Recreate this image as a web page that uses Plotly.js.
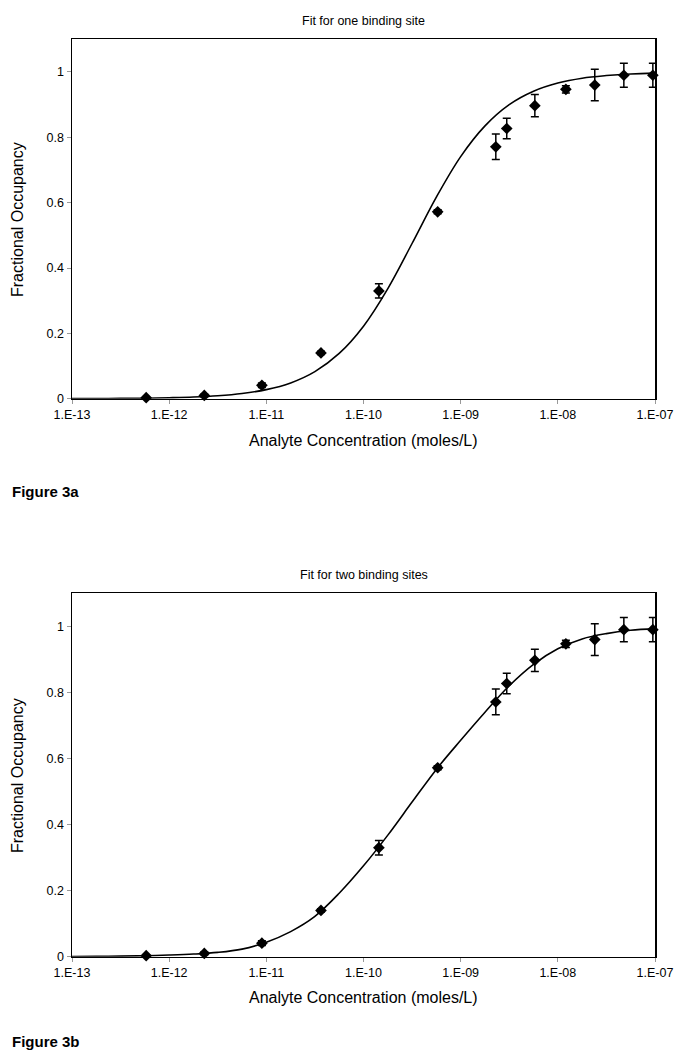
<!DOCTYPE html>
<html>
<head>
<meta charset="utf-8">
<script src="https://cdn.plot.ly/plotly-3.0.1.min.js"></script>
<style>html,body{margin:0;padding:0;background:#fff;}#chart{width:687px;height:1050px;}</style>
</head>
<body>
<div id="chart"></div>
<script>
// Analyte concentrations (moles/L)
const concentration = [5.8e-13, 2.3e-12, 9.0e-12, 3.65e-11, 1.44e-10, 5.8e-10, 2.3e-9, 2.98e-9, 5.8e-9, 1.21e-8, 2.4e-8, 4.78e-8, 9.5e-8];
// Measured fractional occupancy and error
const occupancy = [0.003, 0.010, 0.041, 0.140, 0.33, 0.572, 0.771, 0.827, 0.897, 0.947, 0.960, 0.990, 0.990];
const occErr = [0.002, 0.004, 0.007, 0.005, 0.022, 0.006, 0.039, 0.031, 0.034, 0.011, 0.048, 0.037, 0.037];
// Fitted curves
const curveConc = [1e-13, 1.78e-13, 3.16e-13, 5.62e-13, 1e-12, 1.78e-12, 3.16e-12, 5.62e-12, 1e-11, 1.78e-11, 3.16e-11, 5.62e-11, 1e-10, 1.78e-10, 3.16e-10, 5.62e-10, 1e-9, 1.78e-9, 3.16e-9, 5.62e-9, 1e-8, 1.78e-8, 3.16e-8, 5.62e-8, 1e-7];
const fitOneSite = [0.0003, 0.0005, 0.0009, 0.0016, 0.0029, 0.005, 0.0089, 0.0158, 0.0278, 0.0484, 0.0829, 0.1385, 0.222, 0.337, 0.475, 0.617, 0.741, 0.835, 0.900, 0.941, 0.966, 0.981, 0.989, 0.994, 0.9965];
const fitTwoSites = [0.0005, 0.001, 0.0018, 0.003, 0.005, 0.008, 0.013, 0.023, 0.044, 0.076, 0.122, 0.192, 0.275, 0.368, 0.468, 0.567, 0.655, 0.740, 0.820, 0.885, 0.932, 0.962, 0.978, 0.988, 0.993];
const xTickVals = [1e-13, 1e-12, 1e-11, 1e-10, 1e-9, 1e-8, 1e-7];
const xTickText = ['1.E-13', '1.E-12', '1.E-11', '1.E-10', '1.E-09', '1.E-08', '1.E-07'];
const yTickVals = [0, 0.2, 0.4, 0.6, 0.8, 1];
const yTickText = ['0', '0.2', '0.4', '0.6', '0.8', '1'];
const titles = ['Fit for one binding site', 'Fit for two binding sites'];
const figLabels = ['Figure 3a', 'Figure 3b'];

const FONT = 'Liberation Sans, Arial, sans-serif';

function dataTrace(xa, ya) {
  return {
    x: concentration, y: occupancy, xaxis: xa, yaxis: ya,
    type: 'scatter', mode: 'markers', cliponaxis: false,
    marker: {symbol: 'diamond', size: 9, color: '#000'},
    error_y: {type: 'data', array: occErr, visible: true, color: '#000', thickness: 1.5, width: 4},
    hoverinfo: 'skip', showlegend: false
  };
}
function fitTrace(yvals, xa, ya) {
  return {
    x: curveConc, y: yvals, xaxis: xa, yaxis: ya,
    type: 'scatter', mode: 'lines', cliponaxis: false,
    line: {color: '#000', width: 1.6, shape: 'spline', smoothing: 1.0},
    hoverinfo: 'skip', showlegend: false
  };
}

const xBase = {
  type: 'log', range: [-13, -7], tickvals: xTickVals, ticktext: xTickText,
  showline: true, linecolor: '#000', linewidth: 1.5, mirror: true,
  ticks: 'outside', ticklen: 4, tickcolor: '#999', tickwidth: 1,
  showgrid: false, zeroline: false,
  tickfont: {family: FONT, size: 12.5, color: '#000'}
};
const yBase = {
  range: [0, 1.1], tickvals: yTickVals, ticktext: yTickText,
  showline: true, linecolor: '#000', linewidth: 1.5, mirror: true,
  ticks: 'outside', ticklen: 4, tickcolor: '#999', tickwidth: 1,
  showgrid: false, zeroline: false,
  tickfont: {family: FONT, size: 12.5, color: '#000'}
};

const H = 1050;
const top1 = 1 - 39.3 / H, bot1 = 1 - 398.7 / H;
const top2 = 1 - 593.3 / H, bot2 = 1 - 956.7 / H;

const annotations = [];
function ann(text, x, y, opts) {
  annotations.push(Object.assign({text: text, x: x, y: y, xref: 'paper', yref: 'paper', showarrow: false,
    font: {family: FONT, size: 12, color: '#000'}, xanchor: 'center', yanchor: 'middle'}, opts || {}));
}
// titles
ann(titles[0], 0.5, 1 - 21 / H, {font: {family: FONT, size: 12.5, color: '#000'}});
ann(titles[1], 0.5, 1 - 575 / H, {font: {family: FONT, size: 12.5, color: '#000'}});
// x axis titles
ann('Analyte Concentration (moles/L)', 0.5, 1 - 440 / H, {font: {family: FONT, size: 16, color: '#000'}});
ann('Analyte Concentration (moles/L)', 0.5, 1 - 997 / H, {font: {family: FONT, size: 16, color: '#000'}});
// y axis titles
const plotW = 687 - 72 - 32;
ann('Fractional Occupancy', -55 / plotW, (top1 + bot1) / 2, {textangle: -90, font: {family: FONT, size: 16, color: '#000'}});
ann('Fractional Occupancy', -55 / plotW, (top2 + bot2) / 2, {textangle: -90, font: {family: FONT, size: 16, color: '#000'}});
// figure labels
ann('<b>' + figLabels[0] + '</b>', -62 / plotW, 1 - 491 / H, {xanchor: 'left', font: {family: FONT, size: 15, color: '#000'}});
ann('<b>' + figLabels[1] + '</b>', -62 / plotW, 1 - 1041 / H, {xanchor: 'left', font: {family: FONT, size: 15, color: '#000'}});

const layout = {
  width: 687, height: 1050,
  margin: {l: 72, r: 32, t: 0, b: 0},
  paper_bgcolor: '#fff', plot_bgcolor: '#fff',
  showlegend: false,
  xaxis: Object.assign({}, xBase, {anchor: 'y', domain: [0, 1]}),
  yaxis: Object.assign({}, yBase, {anchor: 'x', domain: [bot1, top1]}),
  xaxis2: Object.assign({}, xBase, {anchor: 'y2', domain: [0, 1]}),
  yaxis2: Object.assign({}, yBase, {anchor: 'x2', domain: [bot2, top2]}),
  annotations: annotations
};

Plotly.newPlot('chart', [
  fitTrace(fitOneSite, 'x', 'y'), dataTrace('x', 'y'),
  fitTrace(fitTwoSites, 'x2', 'y2'), dataTrace('x2', 'y2')
], layout, {staticPlot: true, displayModeBar: false});
</script>
</body>
</html>
